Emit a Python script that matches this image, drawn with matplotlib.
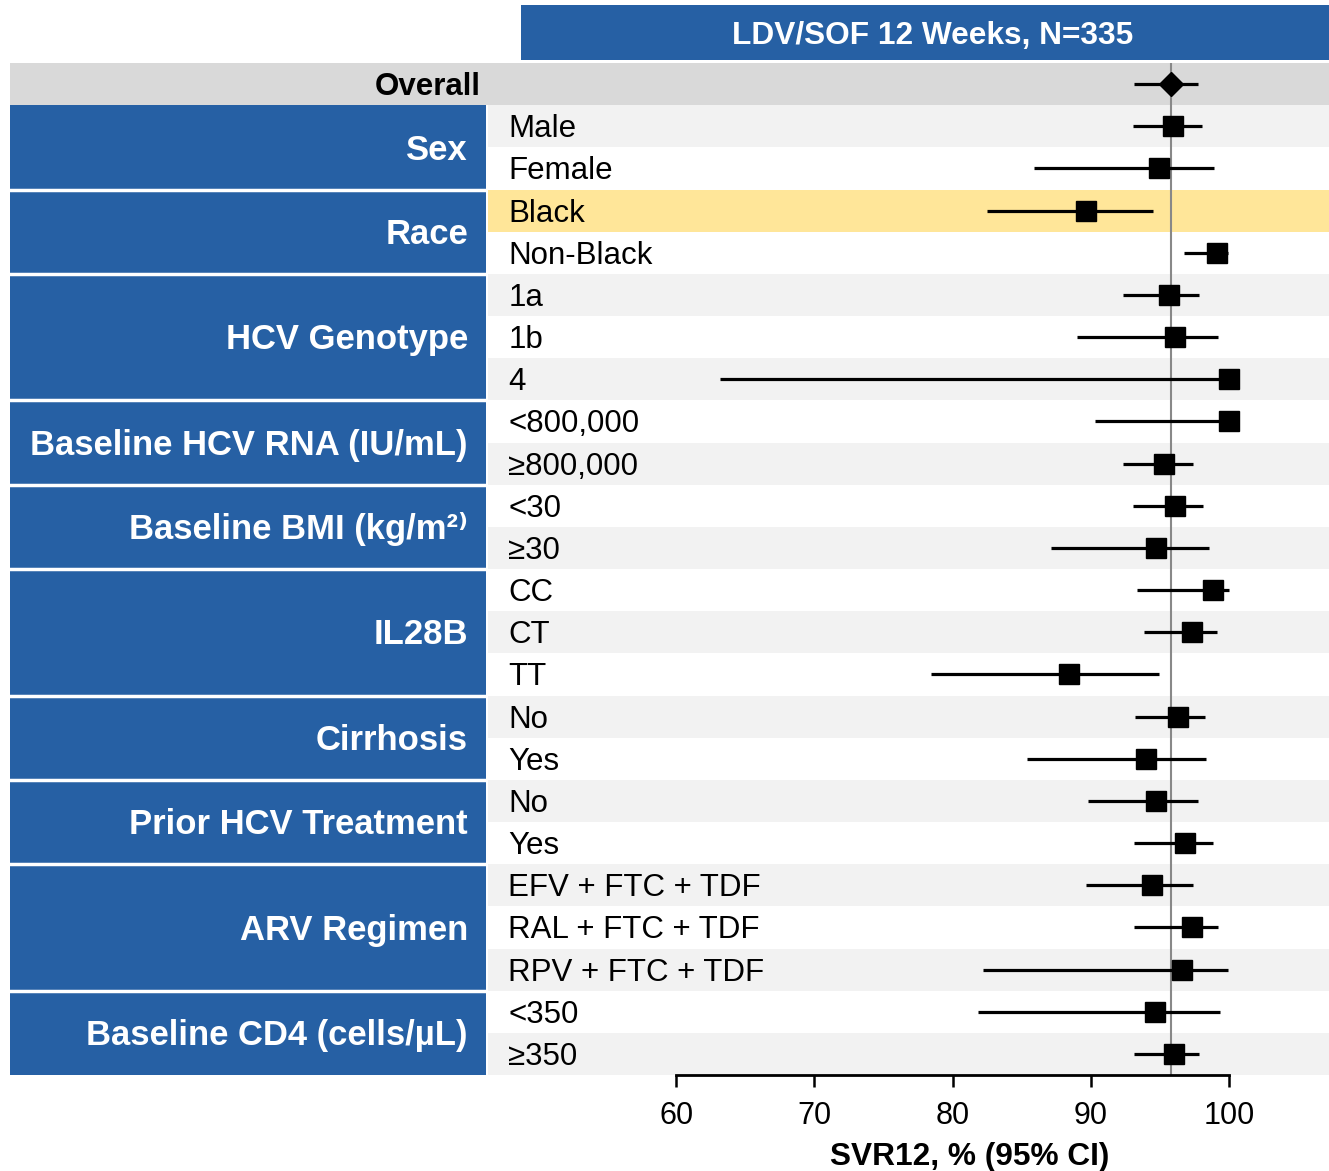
import numpy as np
import matplotlib.pyplot as plt
from matplotlib.patches import Rectangle
from matplotlib.transforms import blended_transform_factory

plt.rcParams['font.family'] = ['Liberation Sans', 'DejaVu Sans']

# subgroup results, SVR12 % with 95% CI
groups = ["Sex", "Race", "HCV Genotype", "Baseline HCV RNA (IU/mL)",
          "Baseline BMI (kg/m²⁾", "IL28B", "Cirrhosis", "Prior HCV Treatment",
          "ARV Regimen", "Baseline CD4 (cells/µL)"]
group_sizes = [2, 2, 3, 2, 2, 3, 2, 2, 3, 2]
subgroups = ["Male", "Female", "Black", "Non-Black", "1a", "1b", "4",
             "<800,000", "≥800,000", "<30", "≥30", "CC", "CT", "TT",
             "No", "Yes", "No", "Yes", "EFV + FTC + TDF", "RAL + FTC + TDF",
             "RPV + FTC + TDF", "<350", "≥350"]
svr = [95.9, 94.9, 89.6, 99.1, 95.6, 96.1, 100, 100, 95.3, 96.1, 94.7,
       98.8, 97.3, 88.4, 96.3, 94.0, 94.7, 96.8, 94.4, 97.3, 96.6, 94.6, 96.0]
ci_low = [93.0, 85.9, 82.5, 96.7, 92.3, 89.0, 63.2, 90.3, 92.3, 93.0, 87.1,
          93.3, 93.8, 78.4, 93.2, 85.4, 89.8, 93.1, 89.6, 93.1, 82.2, 81.8, 93.1]
ci_high = [98.0, 98.9, 94.5, 99.9, 97.8, 99.2, 100, 100, 97.4, 98.1, 98.5,
           100, 99.1, 94.9, 98.2, 98.3, 97.7, 98.8, 97.4, 99.2, 99.9, 99.3, 97.8]
overall = 95.8
overall_ci = [93.1, 97.7]
highlight = "Black"
header = "LDV/SOF 12 Weeks, N=335"
xticks = [60, 70, 80, 90, 100]

blue = '#2660a4'
W, H = 1329, 1171
n = len(subgroups)
rows = np.arange(1, n + 1)

fig = plt.figure(figsize=(W / 100, H / 100), dpi=100)
ax = fig.add_axes([488 / W, 96 / H, 841 / W, 1012 / H])
axl = fig.add_axes([10 / W, 96 / H, 478 / W, 1012 / H])

for a in (ax, axl):
    a.set_ylim(n + 0.5, -0.5)
    a.axhspan(-0.5, 0.5, color='#d9d9d9', lw=0, zorder=0)

# striped rows
for k, lab in enumerate(subgroups):
    if lab == highlight and k == 2:
        c = '#ffe699'
    elif k % 2 == 0:
        c = '#f2f2f2'
    else:
        c = 'white'
    ax.axhspan(k + 0.5, k + 1.5, color=c, lw=0, zorder=0)

ax.set_xlim(46.4, 107.2)
ax.axvline(overall, color='#888888', lw=1.5, zorder=1)
ax.hlines(rows, ci_low, ci_high, color='black', lw=2.3, zorder=2)
ax.plot(svr, rows, 's', ms=14.5, color='black', zorder=3)
ax.hlines(0, overall_ci[0], overall_ci[1], color='black', lw=2.3, zorder=2)
ax.plot([overall], [0], 'D', ms=12.5, color='black', zorder=3)

tr = blended_transform_factory(ax.transAxes, ax.transData)
for y, lab in zip(rows, subgroups):
    ax.text(0.024, y + 0.26, lab, transform=tr, fontsize=22.5, va='baseline', ha='left')

for s in ['top', 'right', 'left']:
    ax.spines[s].set_visible(False)
ax.spines['bottom'].set_bounds(60, 100)
ax.spines['bottom'].set_linewidth(2)
ax.set_yticks([])
ax.set_xticks(xticks)
ax.tick_params(axis='x', length=8.5, width=1.8, labelsize=22, pad=10)

# group boxes on the left
axl.set_xlim(0, 478)
axl.axis('off')
start = 1
for g, size in zip(groups, group_sizes):
    axl.add_patch(Rectangle((0, start - 0.5), 476, size, color=blue, lw=0))
    mid = start + (size - 1) / 2
    axl.text(458, mid + 0.29, g, color='white', fontsize=24.9, fontweight='bold',
             ha='right', va='baseline')
    start += size
for b in np.cumsum(group_sizes)[:-1]:
    axl.axhline(b + 0.5, color='white', lw=2.5)
axl.text(471, 0.27, "Overall", fontsize=22.5, fontweight='bold', ha='right', va='baseline')

# header bar
fig.patches.append(Rectangle((521 / W, (H - 60) / H), 808 / W, 55 / H,
                             transform=fig.transFigure, color=blue, lw=0))
fig.text(933 / W, (H - 36) / H, header, color='white', fontsize=22.8,
         fontweight='bold', ha='center', va='center')

fig.text(970 / W, (H - 1157) / H, "SVR12, % (95% CI)", fontsize=22.8,
         fontweight='bold', ha='center', va='center')

fig.savefig('out.png', dpi=100)
